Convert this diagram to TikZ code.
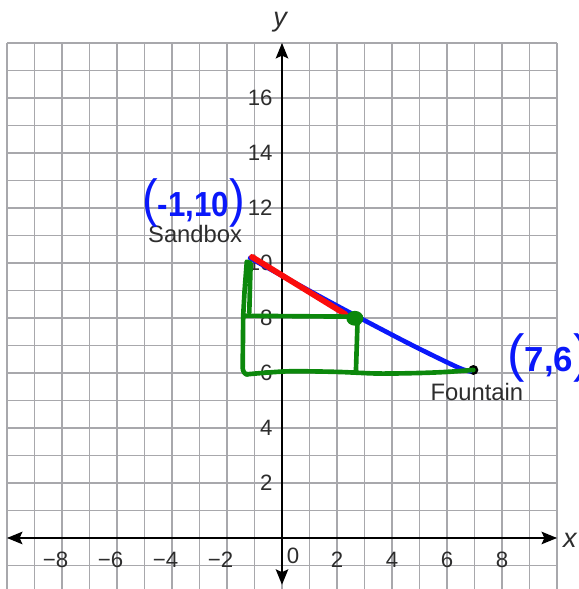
\documentclass[tikz,border=0pt]{standalone}
\usepackage{fontspec}
\setmainfont{Liberation Sans}
\usetikzlibrary{arrows.meta}
\definecolor{gridgray}{RGB}{168,168,172}
\definecolor{pengreen}{RGB}{12,136,12}
\definecolor{penblue}{RGB}{10,24,250}
\definecolor{penred}{RGB}{250,12,12}
\definecolor{labelgray}{RGB}{45,45,45}
\newcommand{\handparen}[1]{{\fontsize{27}{27}\selectfont\mdseries #1}}
\begin{document}
\begin{tikzpicture}[x=0.5cm,y=0.5cm,
  gridline/.style={draw=gridgray,line width=1pt},
  axisline/.style={draw=black,line width=0.8pt,
    {Stealth[length=8pt,width=6.5pt,inset=1.5pt]}-{Stealth[length=8pt,width=6.5pt,inset=1.5pt]}},
  ticklbl/.style={font=\fontsize{11.5}{13}\selectfont,text=labelgray,inner sep=0pt},
  placelbl/.style={font=\fontsize{12.3}{14}\selectfont,text=labelgray,inner sep=0pt},
  axislbl/.style={font=\fontsize{14}{16}\selectfont\itshape,text=labelgray,inner sep=0pt},
  hand/.style={font=\fontsize{18}{20}\selectfont\bfseries,text=penblue,inner sep=0pt},
  pen/.style={line width=2.4pt,line cap=round,line join=round},
]
\useasboundingbox (-10.255,-1.855) rectangle (10.8,19.564);
\clip (-10.255,-1.855) rectangle (10.8,19.564);
% grid
\foreach \i in {-10,...,10} \draw[gridline] (\i,-2) -- (\i,18);
\foreach \j in {-1,...,18} \draw[gridline] (-10,\j) -- (10,\j);
% axes
\coordinate (xaxL) at (-10,0);
\coordinate (xaxR) at (10,0);
\coordinate (yaxB) at (0,-1.7);
\coordinate (yaxT) at (0,18);
\draw[axisline] (xaxL) -- (xaxR);
\draw[axisline] (yaxB) -- (yaxT);
\node[axislbl] (ylab) at (-0.07,18.76) {y};
\node[axislbl] (xlab) at (10.47,-0.07) {x};
% tick labels
\foreach \v in {2,4,...,16} \node[ticklbl,anchor=east] (ylbl\v) at (-0.33,\v) {\v};
\foreach \v in {2,4,6,8} \node[ticklbl] (xlblp\v) at (\v,-0.8) {\v};
\foreach \v in {2,4,6,8} \node[ticklbl] (xlblm\v) at (-\v,-0.8) {\llap{−}\v};
\node[ticklbl] (xlbl0) at (0.4,-0.64) {0};
% places
\coordinate (sand) at (-1,10);
\coordinate (fount) at (6.96,6.11);
\node[placelbl] (sandlbl) at (-3.16,11.05) {Sandbox};
\node[placelbl] (fountlbl) at (7.09,5.31) {Fountain};
\fill[black] (fount) circle [radius=0.18];
% handwritten annotations
\node[hand] (sandtxt) at (-3.22,12.2) {\scalebox{0.9}[1]{\handparen{(}-1,10\handparen{)}}};
\node[hand,anchor=west] (founttxt) at (8.18,6.56) {\handparen{(}7,6\handparen{)}};
\draw[pen,penblue] plot[smooth,tension=0.5] coordinates
  {(-1.16,10.18) (1.75,8.58) (4.5,7.13) (6.36,6.22) (6.84,6.06)};
\draw[pen,penred,line width=3pt] (-1.09,10.22) -- (2.3,8.14);
\coordinate (mid) at (2.65,7.99);
\draw[pen,pengreen] (-1.19,8.2) -- (-1.14,9.99) -- (-1.28,10.05) -- (-1.36,9.0)
  -- (-1.41,8.1) -- (-1.43,6.2) to[out=-90,in=180] (-1.25,5.95);
\draw[pen,pengreen] plot[smooth,tension=0.5] coordinates
  {(-1.3,5.95) (0.2,6.06) (2.0,6.04) (3.5,5.98) (5.0,6.0) (6.0,6.04) (fount)};
\draw[pen,pengreen] (-1.38,8.08) -- (2.4,8.05);
\draw[pen,pengreen] (2.75,7.95) -- (2.69,6.1);
\fill[pengreen] (mid) ellipse [x radius=0.31,y radius=0.27];
\end{tikzpicture}
\end{document}
